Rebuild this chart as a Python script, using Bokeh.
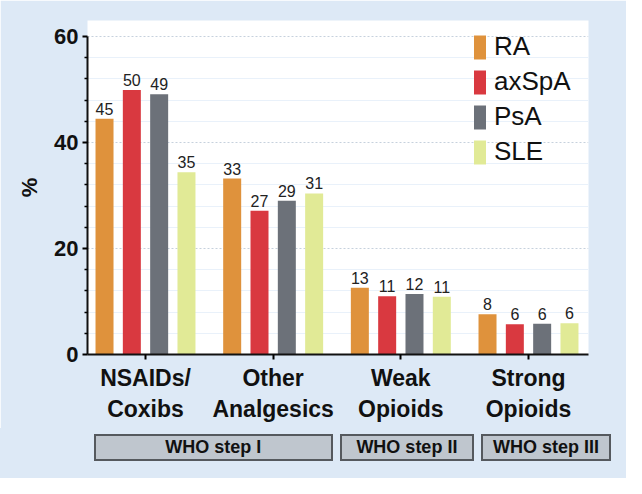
from bokeh.plotting import figure
from bokeh.models import Range1d, FixedTicker, ColumnDataSource, Div
from bokeh.layouts import column
from bokeh.transform import dodge
from bokeh.core.properties import value
from bokeh.embed import file_html
from bokeh.resources import INLINE

# ---- data ----
categories = ["NSAIDs/\nCoxibs", "Other\nAnalgesics", "Weak\nOpioids", "Strong\nOpioids"]
series = ["RA", "axSpA", "PsA", "SLE"]
ra = [44.5, 33.2, 12.6, 7.6]
axspa = [49.9, 27.1, 11.0, 5.7]
psa = [49.1, 29.0, 11.4, 5.8]
sle = [34.4, 30.4, 10.9, 5.9]
ra_labels = ["45", "33", "13", "8"]
axspa_labels = ["50", "27", "11", "6"]
psa_labels = ["49", "29", "12", "6"]
sle_labels = ["35", "31", "11", "6"]
y_ticks = [0, 20, 40, 60]
who_steps = ["WHO step I", "WHO step II", "WHO step III"]
who_from = [-0.40, 1.527, 2.632]   # in category units
who_to = [1.47, 2.577, 3.65]

# ---- style ----
FONT = "Liberation Sans"
BG = "#dde9f6"
colors = ["#df923c", "#d93940", "#6c7179", "#e1ea96"]
offsets = [-0.321, -0.107, 0.107, 0.321]
bar_w = 0.141
W = 626
BL, BR = 87, 38          # frame borders left / right
X0, X1 = -0.4543, 3.47

# ---------------- main chart ----------------
p = figure(width=W, height=428,
           x_range=Range1d(X0, X1), y_range=Range1d(0, 63.02),
           output_backend="svg", toolbar_location=None,
           min_border_left=BL, min_border_right=BR, min_border_top=20, min_border_bottom=74,
           background_fill_color=BG, background_fill_alpha=0,
           border_fill_color=BG, outline_line_color=None)

src = ColumnDataSource(dict(
    x=list(range(len(categories))),
    RA=ra, axSpA=axspa, PsA=psa, SLE=sle,
    RA_l=ra_labels, axSpA_l=axspa_labels, PsA_l=psa_labels, SLE_l=sle_labels,
))

minor = [v for v in range(4, 60, 4) if v not in y_ticks]
yt = FixedTicker(ticks=y_ticks, minor_ticks=minor)
p.xgrid.visible = False
p.ygrid.ticker = yt
p.ygrid.grid_line_color = "#c6d1dd"
p.ygrid.grid_line_dash = "2 2"
p.ygrid.minor_grid_line_color = "#e9f1fa"
p.ygrid.bounds = (0, 60)

for i, s in enumerate(series):
    xx = dodge("x", offsets[i], range=p.x_range)
    p.vbar(x=xx, top=s, width=bar_w, source=src, fill_color=colors[i],
           line_color=None, legend_label=s)
    p.text(x=xx, y=s, text=s + "_l", source=src, text_align="center",
           text_baseline="bottom", y_offset=-4, text_font=value(FONT),
           text_font_size="16px", text_color="#222222")

xa = p.xaxis[0]
xa.ticker = FixedTicker(ticks=list(range(len(categories))), minor_ticks=[])
xa.major_label_overrides = {i: c for i, c in enumerate(categories)}
xa.axis_line_width = 2
xa.axis_line_color = "#111111"
xa.major_tick_line_width = 2
xa.major_tick_out = 5
xa.major_tick_in = 0
xa.minor_tick_line_color = None
xa.major_label_standoff = 5
xa.major_label_text_font = FONT
xa.major_label_text_font_style = "bold"
xa.major_label_text_font_size = "23px"
xa.major_label_text_color = "#111111"

ya = p.yaxis[0]
ya.bounds = (0, 60)
ya.ticker = yt
ya.axis_line_width = 2
ya.axis_line_color = "#111111"
ya.major_tick_line_width = 2
ya.major_tick_out = 5
ya.major_tick_in = 0
ya.minor_tick_out = 3
ya.minor_tick_in = 0
ya.minor_tick_line_width = 1.5
ya.major_label_standoff = 4
ya.major_label_text_font = FONT
ya.major_label_text_font_style = "bold"
ya.major_label_text_font_size = "22px"
ya.major_label_text_color = "#111111"
ya.axis_label = "%"
ya.axis_label_text_font = FONT
ya.axis_label_text_font_style = "bold"
ya.axis_label_text_font_size = "22px"
ya.axis_label_text_color = "#111111"
ya.axis_label_standoff = 9

lg = p.legend[0]
lg.location = (385, 187)
lg.border_line_color = None
lg.background_fill_alpha = 0
lg.padding = 0
lg.margin = 0
lg.glyph_width = 15
lg.glyph_height = 30
lg.label_height = 30
lg.spacing = 4
lg.label_standoff = 7
lg.label_text_font = FONT
lg.label_text_font_size = "26px"
lg.label_text_color = "#111111"

# ---------------- WHO step strip (HTML boxes aligned to the category scale) ----------------
frame_w = W - BL - BR
def to_px(v):
    return BL + (v - X0) / (X1 - X0) * frame_w

boxes = []
for t, a, b in zip(who_steps, who_from, who_to):
    l, r = to_px(a), to_px(b)
    boxes.append(
        f'<div style="position:absolute;left:{l:.1f}px;top:6px;width:{r - l:.1f}px;height:27px;'
        f'box-sizing:border-box;border:2px solid #55595e;background:#bfc6ce;'
        f'display:flex;align-items:center;justify-content:center;'
        f"font-family:'{FONT}';font-weight:bold;font-size:18px;color:#111111;"
        f'white-space:nowrap;">{t}</div>'
    )
html = (f'<div style="position:relative;width:{W}px;height:50px;background:{BG};">'
        + "".join(boxes) + "</div>")
strip = Div(text=html, width=W, height=50, margin=(0, 0, 0, 0),
            styles={"background-color": BG})

layout = column(p, strip, spacing=0)
open("out.html", "w").write(file_html(layout, INLINE))
